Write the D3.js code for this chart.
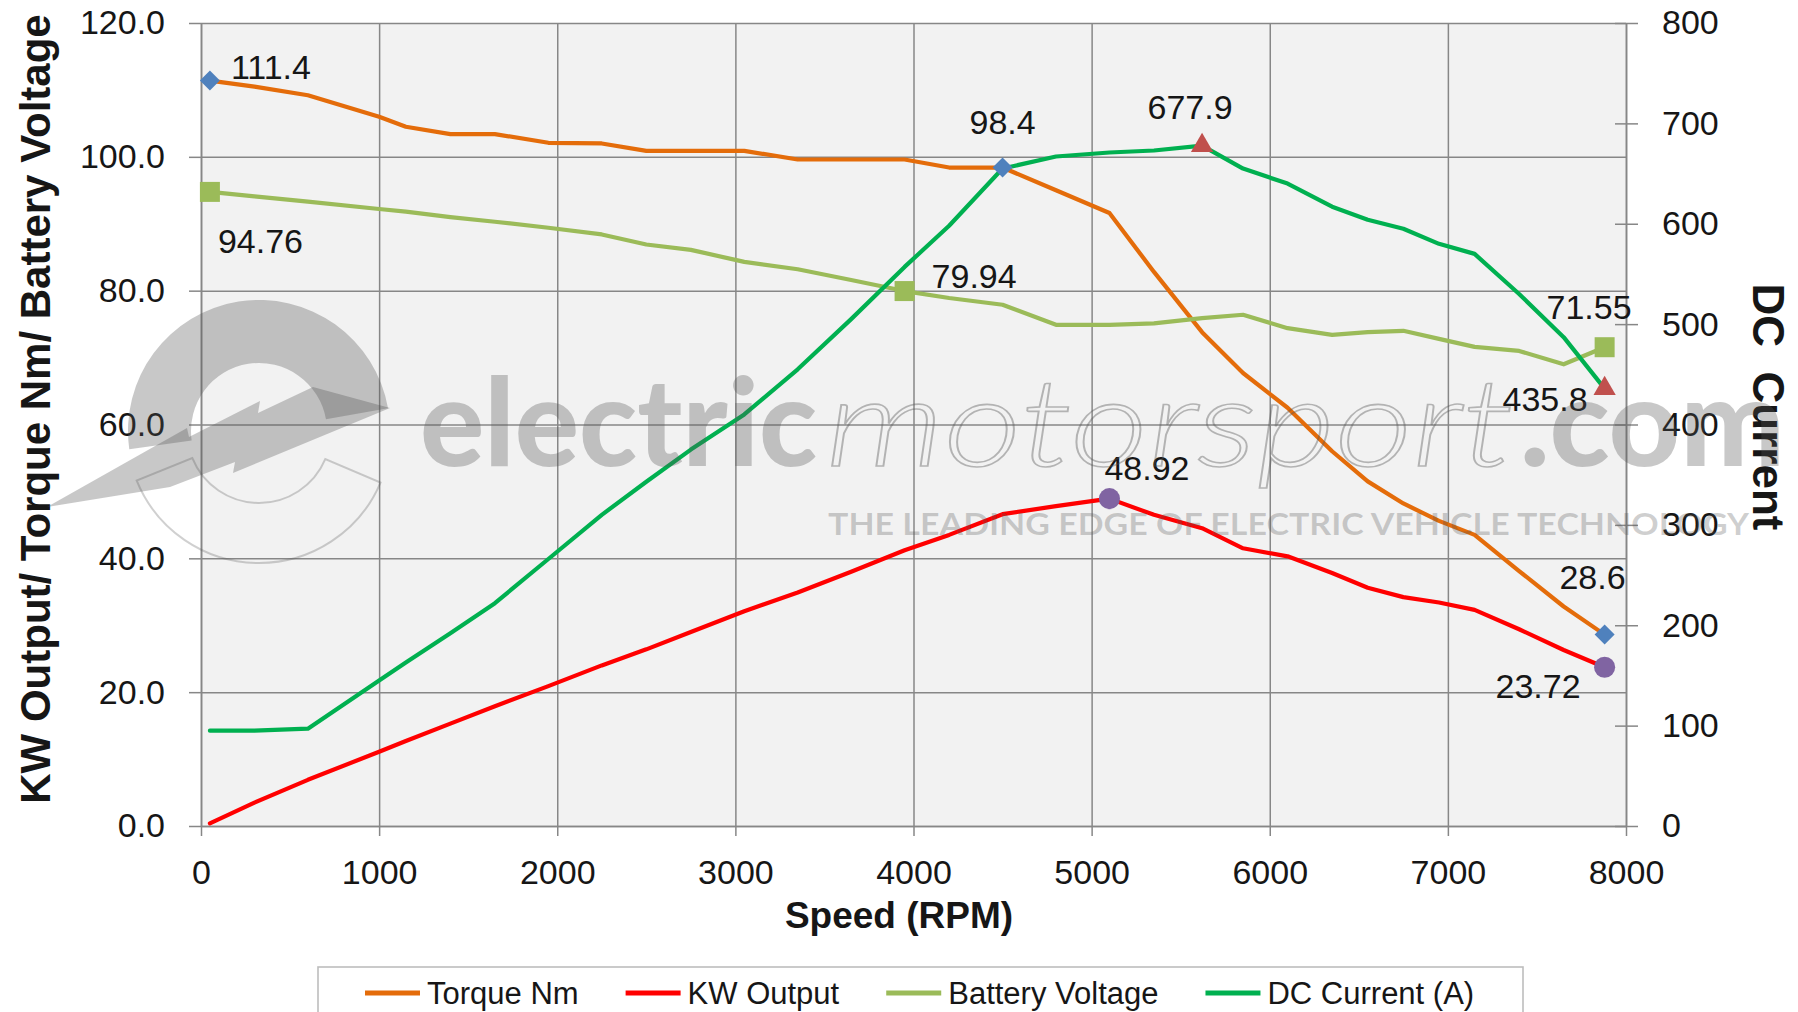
<!DOCTYPE html>
<html><head><meta charset="utf-8">
<script src="https://cdn.jsdelivr.net/npm/d3@7"></script>
<style>
html,body{margin:0;padding:0;background:#fff;}
svg{display:block;font-family:"Liberation Sans",Arial,sans-serif;}
</style>
</head><body>
<svg id="chart" width="1798" height="1012"></svg>
<script>
// ---------------- DATA ----------------
const rpm = [50, 300, 600, 1000, 1150, 1400, 1650, 1950, 2250, 2500, 2750, 3050, 3350, 3650, 3950, 4200, 4500, 4800, 5100, 5350, 5620, 5850, 6100, 6350, 6550, 6750, 6950, 7150, 7400, 7650, 7880];
const torqueNm = [111.4, 110.5, 109.2, 106.0, 104.5, 103.4, 103.4, 102.1, 102.0, 100.9, 100.9, 100.9, 99.6, 99.6, 99.6, 98.4, 98.4, 95.0, 91.6, 82.8, 73.8, 67.7, 62.5, 56.0, 51.5, 48.2, 45.6, 43.5, 38.1, 32.8, 28.6];
const kwOutput = [0.4, 3.5, 6.9, 11.1, 12.7, 15.3, 17.9, 20.9, 24.0, 26.4, 29.0, 32.1, 34.9, 38.0, 41.2, 43.5, 46.6, 47.8, 48.92, 46.5, 44.5, 41.5, 40.3, 37.8, 35.6, 34.2, 33.4, 32.3, 29.4, 26.3, 23.72];
const batteryVoltage = [94.76, 94.1, 93.3, 92.2, 91.8, 91.0, 90.3, 89.4, 88.4, 86.9, 86.1, 84.3, 83.2, 81.6, 79.94, 78.9, 77.9, 74.9, 74.9, 75.1, 75.9, 76.4, 74.4, 73.4, 73.8, 74.0, 72.8, 71.6, 71.0, 69.0, 71.55];
const dcCurrent = [95, 95, 97, 145, 163, 192, 222, 266, 310, 343, 375, 410, 455, 505, 557, 598, 655, 667, 671, 673, 677.9, 655, 640, 617, 604, 595, 580, 570, 530, 487, 435.8];

const xTicks = [0, 1000, 2000, 3000, 4000, 5000, 6000, 7000, 8000];
const yLeftTicks = [0, 20, 40, 60, 80, 100, 120];
const yRightTicks = [0, 100, 200, 300, 400, 500, 600, 700, 800];
const seriesNames = ["Torque Nm", "KW Output", "Battery Voltage", "DC Current (A)"];
const labelledIdx = { torque: [0, 16, 30], kw: [18, 30], voltage: [0, 14, 30], current: [20, 30] };

// ---------------- LAYOUT ----------------
const L = 201, R = 1626, T = 23, B = 826;
const svg = d3.select("#chart");
const x = d3.scaleLinear().domain([0, 8000]).range([L, R]);
const yL = d3.scaleLinear().domain([0, 120]).range([B, T]);
const yR = d3.scaleLinear().domain([0, 800]).range([B, T]);
const gridCol = "#878787", txtCol = "#161616";

svg.append("rect").attr("x", L).attr("y", T).attr("width", R - L).attr("height", B - T).attr("fill", "#f2f2f2");

// grid lines
const gh = svg.append("g").attr("transform", `translate(${L},0)`)
  .call(d3.axisLeft(yL).tickValues(yLeftTicks).tickSize(-(R - L)).tickFormat(""));
gh.select(".domain").remove();
gh.selectAll("line").attr("stroke", gridCol).attr("stroke-width", 1.5);
const gv = svg.append("g").attr("transform", `translate(0,${B})`)
  .call(d3.axisBottom(x).tickValues(xTicks).tickSize(-(B - T)).tickFormat(""));
gv.select(".domain").remove();
gv.selectAll("line").attr("stroke", gridCol).attr("stroke-width", 1.5);

// axes
function styleAxis(g) {
  g.select(".domain").attr("stroke", gridCol).attr("stroke-width", 1.6);
  g.selectAll(".tick line").attr("stroke", gridCol).attr("stroke-width", 1.5);
  g.selectAll(".tick text").attr("fill", txtCol).attr("font-size", 34)
    .attr("font-family", '"Liberation Sans",Arial,sans-serif');
}
const ax = svg.append("g").attr("transform", `translate(${L},0)`)
  .call(d3.axisLeft(yL).tickValues(yLeftTicks).tickSizeInner(12).tickSizeOuter(0).tickPadding(24).tickFormat(d3.format(".1f")));
styleAxis(ax);
const bx = svg.append("g").attr("transform", `translate(0,${B})`)
  .call(d3.axisBottom(x).tickValues(xTicks).tickSizeInner(10).tickSizeOuter(0).tickPadding(24).tickFormat(d3.format("d")));
styleAxis(bx);
const rx = svg.append("g").attr("transform", `translate(${R},0)`)
  .call(d3.axisRight(yR).tickValues(yRightTicks).tickSizeInner(12).tickSizeOuter(0).tickPadding(24).tickFormat(d3.format("d")));
styleAxis(rx);
rx.selectAll(".tick line").attr("x1", -11);

// axis titles
svg.append("text").attr("transform", "translate(50,409) rotate(-90)")
  .attr("text-anchor", "middle").attr("font-size", 42).attr("font-weight", "bold").attr("fill", txtCol)
  .text("KW Output/ Torque Nm/ Battery Voltage");
svg.append("text").attr("transform", "translate(1753,407) rotate(90)")
  .attr("text-anchor", "middle").attr("font-size", 44).attr("font-weight", "bold").attr("fill", txtCol)
  .style("white-space", "pre").text("DC  Current");
svg.append("text").attr("x", 899).attr("y", 928)
  .attr("text-anchor", "middle").attr("font-size", 37).attr("font-weight", "bold").attr("fill", txtCol)
  .text("Speed (RPM)");

// ---------------- SERIES ----------------
const series = [
  { key: "torque", name: seriesNames[0], vals: torqueNm, y: yL, color: "#E46C0A", mColor: "#4F81BD", marker: "diamond" },
  { key: "kw", name: seriesNames[1], vals: kwOutput, y: yL, color: "#FF0000", mColor: "#8064A2", marker: "circle" },
  { key: "voltage", name: seriesNames[2], vals: batteryVoltage, y: yL, color: "#9BBB59", mColor: "#9BBB59", marker: "square" },
  { key: "current", name: seriesNames[3], vals: dcCurrent, y: yR, color: "#00B050", mColor: "#C0504D", marker: "triangle" }
];

const lineG = svg.append("g");
series.forEach(s => {
  const line = d3.line().x((d, i) => x(rpm[i])).y(d => s.y(d));
  lineG.append("path").datum(s.vals).attr("d", line)
    .attr("fill", "none").attr("stroke", s.color).attr("stroke-width", 4.2)
    .attr("stroke-linejoin", "round").attr("stroke-linecap", "round");
});

const symbolDefs = {
  diamond: { type: d3.symbolSquare, size: 200, rot: 45 },
  circle: { type: d3.symbolCircle, size: 350, rot: 0 },
  square: { type: d3.symbolSquare, size: 400, rot: 0 },
  triangle: { type: d3.symbolTriangle, size: 215, rot: 0 }
};
// label placement (style only): [dx, dy, anchor] per labelled point
const labelPlace = {
  torque: [[21, -2, "start"], [0, -34, "middle"], [21, -46, "end"]],
  kw: [[-5, -19, "start"], [-24, 31, "end"]],
  voltage: [[8, 61, "start"], [27, -3, "start"], [27, -28, "end"]],
  current: [[-12, -27, "middle"], [-17, 22, "end"]]
};
const markG = svg.append("g");
series.forEach(s => {
  const sd = symbolDefs[s.marker];
  labelledIdx[s.key].forEach((idx, k) => {
    const px = x(rpm[idx]), py = s.y(s.vals[idx]);
    markG.append("path").attr("d", d3.symbol().type(sd.type).size(sd.size)())
      .attr("transform", `translate(${px},${py}) rotate(${sd.rot})`).attr("fill", s.mColor);
    const p = labelPlace[s.key][k];
    markG.append("text").attr("x", px + p[0]).attr("y", py + p[1]).attr("text-anchor", p[2])
      .attr("font-size", 34).attr("fill", txtCol).text(String(s.vals[idx]));
  });
});

// ---------------- LEGEND ----------------
const lg = svg.append("g");
lg.append("rect").attr("x", 318).attr("y", 967).attr("width", 1205).attr("height", 80)
  .attr("fill", "#fff").attr("stroke", "#bdbdbd").attr("stroke-width", 1.6);
let lx = 365;
series.forEach(s => {
  lg.append("line").attr("x1", lx).attr("x2", lx + 55).attr("y1", 993).attr("y2", 993)
    .attr("stroke", s.color).attr("stroke-width", 5);
  const t = lg.append("text").attr("x", lx + 62).attr("y", 1004).attr("font-size", 31)
    .attr("fill", txtCol).text(s.name);
  lx = lx + 62 + t.node().getComputedTextLength() + 47;
});

// ---------------- WATERMARK ----------------
const wm = svg.append("g").attr("pointer-events", "none");
const wmFill = "#555", wmOp = 0.32;
const lc = [259, 431];
const logo = wm.append("g").attr("transform", `translate(${lc[0]},${lc[1]})`);
const deg = Math.PI / 180;
logo.append("path").attr("d", d3.arc().innerRadius(68).outerRadius(131).startAngle(-98 * deg).endAngle(80 * deg)())
  .attr("fill", wmFill).attr("fill-opacity", wmOp);
logo.append("path").attr("d", d3.arc().innerRadius(72).outerRadius(132).startAngle(113 * deg).endAngle(248 * deg)())
  .attr("fill", "none").attr("stroke", wmFill).attr("stroke-opacity", 0.28).attr("stroke-width", 2);
const bolt = [[47, 507], [187, 428], [189, 437], [260, 401], [258, 413], [313, 387], [390, 408], [233, 473], [235, 462], [170, 487]];
wm.append("path").attr("d", d3.line()(bolt) + "Z").attr("fill", wmFill).attr("fill-opacity", wmOp);

wm.append("text").attr("x", 420).attr("y", 466).attr("font-family", "Lato, 'Open Sans', sans-serif")
  .attr("font-weight", 900).attr("font-size", 122).attr("textLength", 397).attr("lengthAdjust", "spacingAndGlyphs")
  .attr("fill", wmFill).attr("fill-opacity", wmOp).text("electric");
wm.append("text").attr("x", 826).attr("y", 466).attr("font-family", "Lato, 'Open Sans', sans-serif")
  .attr("font-weight", 300).attr("font-style", "italic").attr("font-size", 122).attr("textLength", 688)
  .attr("lengthAdjust", "spacingAndGlyphs").attr("fill", "none").attr("stroke", wmFill).attr("stroke-opacity", 0.4)
  .attr("stroke-width", 1.6).text("motorsport");
wm.append("text").attr("x", 1520).attr("y", 466).attr("font-family", "Lato, 'Open Sans', sans-serif")
  .attr("font-weight", 900).attr("font-size", 122).attr("textLength", 265).attr("lengthAdjust", "spacingAndGlyphs")
  .attr("fill", wmFill).attr("fill-opacity", wmOp).text(".com");
wm.append("text").attr("x", 828).attr("y", 535).attr("font-family", "Lato, 'Open Sans', sans-serif")
  .attr("font-weight", 700).attr("font-size", 31).attr("textLength", 921).attr("lengthAdjust", "spacingAndGlyphs")
  .attr("fill", wmFill).attr("fill-opacity", 0.28).text("THE LEADING EDGE OF ELECTRIC VEHICLE TECHNOLOGY");
</script>
</body></html>
